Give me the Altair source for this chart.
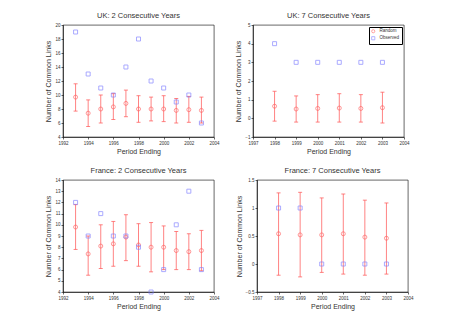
import altair as alt
import pandas as pd

RED = "#ff5a5a"
BLUE = "#7a7aff"
TXT = "#333333"
FONT = "Liberation Sans"

# UK: 2 consecutive years
uk2_years = [1993, 1994, 1995, 1996, 1997, 1998, 1999, 2000, 2001, 2002, 2003]
uk2_rand_mean = [9.7, 7.4, 8.0, 8.3, 8.8, 8.0, 8.0, 8.0, 7.8, 7.9, 7.8]
uk2_rand_lo = [7.7, 5.5, 6.0, 6.5, 6.9, 6.1, 6.3, 6.2, 6.0, 6.1, 6.0]
uk2_rand_hi = [11.6, 9.3, 10.0, 10.2, 10.7, 9.9, 9.7, 9.9, 9.5, 9.8, 9.7]
uk2_observed = [19, 13, 11, 10, 14, 18, 12, 11, 9, 10, 6]

# UK: 7 consecutive years
uk7_years = [1998, 1999, 2000, 2001, 2002, 2003]
uk7_rand_mean = [0.65, 0.50, 0.53, 0.55, 0.53, 0.57]
uk7_rand_lo = [-0.15, -0.20, -0.20, -0.20, -0.20, -0.25]
uk7_rand_hi = [1.45, 1.20, 1.27, 1.32, 1.27, 1.40]
uk7_observed = [4, 3, 3, 3, 3, 3]

# France: 2 consecutive years
fr2_years = [1993, 1994, 1995, 1996, 1997, 1998, 1999, 2000, 2001, 2002, 2003]
fr2_rand_mean = [9.8, 7.4, 8.1, 8.3, 8.9, 8.2, 8.0, 8.0, 7.7, 7.6, 7.7]
fr2_rand_lo = [7.8, 5.5, 6.1, 6.3, 6.8, 6.3, 5.8, 6.0, 6.0, 6.0, 5.9]
fr2_rand_hi = [11.8, 9.0, 10.0, 10.3, 10.9, 10.1, 10.2, 9.9, 9.4, 9.2, 9.5]
fr2_observed = [12, 9, 11, 9, 9, 8, 4, 6, 10, 13, 6]

# France: 7 consecutive years
fr7_years = [1998, 1999, 2000, 2001, 2002, 2003]
fr7_rand_mean = [0.54, 0.52, 0.52, 0.54, 0.48, 0.46]
fr7_rand_lo = [-0.20, -0.23, -0.15, -0.18, -0.20, -0.18]
fr7_rand_hi = [1.27, 1.28, 1.18, 1.25, 1.14, 1.09]
fr7_observed = [1, 1, 0, 0, 0, 0]

W, H = 151, 112


def panel(title, years, mean, lo, hi, obs, xdom, xticks, ydom, yticks, show_legend=False):
    err = pd.DataFrame({"year": years, "lo": lo, "hi": hi})
    pts = pd.DataFrame(
        {"year": years * 2,
         "value": list(mean) + list(obs),
         "series": ["Random"] * len(years) + ["Observed"] * len(years)}
    )
    xsc = alt.Scale(domain=xdom, nice=False)
    xax = alt.Axis(values=xticks, format="d", title="Period Ending")
    ysc = alt.Scale(domain=ydom, nice=False)
    yax = alt.Axis(values=yticks, format="~g", title="Number of Common Links")

    def X():
        return alt.X("year:Q", scale=xsc, axis=xax)

    def Y(field):
        return alt.Y(field, scale=ysc, axis=yax)

    rule = alt.Chart(err).mark_rule(color=RED, strokeWidth=1, opacity=0.75).encode(
        x=X(), y=Y("lo:Q"), y2="hi:Q")
    cap_lo = alt.Chart(err).mark_tick(color=RED, orient="horizontal", size=4, thickness=1, opacity=0.75).encode(
        x=X(), y=Y("lo:Q"))
    cap_hi = alt.Chart(err).mark_tick(color=RED, orient="horizontal", size=4, thickness=1, opacity=0.75).encode(
        x=X(), y=Y("hi:Q"))
    legend = alt.Legend(title=None, orient="top-right", offset=2, strokeColor="black",
                        padding=2, labelFontSize=4.5, symbolSize=10, rowPadding=0,
                        symbolStrokeWidth=0.8, fillColor="white", labelFont=FONT,
                        labelColor=TXT) if show_legend else None
    points = alt.Chart(pts).mark_point(filled=False, strokeWidth=0.9, size=16).encode(
        x=X(),
        y=Y("value:Q"),
        color=alt.Color("series:N", scale=alt.Scale(domain=["Random", "Observed"], range=[RED, BLUE]),
                        legend=legend),
        shape=alt.Shape("series:N", scale=alt.Scale(domain=["Random", "Observed"], range=["circle", "square"]),
                        legend=legend),
    )
    return alt.layer(rule, cap_lo, cap_hi, points).properties(
        width=W, height=H,
        title=alt.Title(title, fontWeight="normal", fontSize=7.5, font=FONT, color=TXT, offset=3))


uk2 = panel("UK: 2 Consecutive Years", uk2_years, uk2_rand_mean, uk2_rand_lo, uk2_rand_hi, uk2_observed,
            [1992, 2004], [1992, 1994, 1996, 1998, 2000, 2002, 2004], [4, 20], list(range(4, 21, 2)))
uk7 = panel("UK: 7 Consecutive Years", uk7_years, uk7_rand_mean, uk7_rand_lo, uk7_rand_hi, uk7_observed,
            [1997, 2004], list(range(1997, 2005)), [-1, 5], list(range(-1, 6)), show_legend=True)
fr2 = panel("France: 2 Consecutive Years", fr2_years, fr2_rand_mean, fr2_rand_lo, fr2_rand_hi, fr2_observed,
            [1992, 2004], [1992, 1994, 1996, 1998, 2000, 2002, 2004], [4, 14], list(range(4, 15)))
fr7 = panel("France: 7 Consecutive Years", fr7_years, fr7_rand_mean, fr7_rand_lo, fr7_rand_hi, fr7_observed,
            [1997, 2004], list(range(1997, 2005)), [-0.5, 1.5], [-0.5, 0, 0.5, 1, 1.5])

top = alt.hconcat(uk2, uk7, spacing=14).resolve_legend(color="independent", shape="independent")
bottom = alt.hconcat(fr2, fr7, spacing=14).resolve_legend(color="independent", shape="independent")
chart = alt.vconcat(top, bottom, spacing=11).resolve_legend(
    color="independent", shape="independent"
).properties(padding={"left": 36, "top": 3, "right": 5, "bottom": 5}).configure(
    font=FONT
).configure_view(
    stroke="black", strokeWidth=0.6
).configure_axis(
    grid=False, domainColor="black", domainWidth=0.6, tickColor="black", tickSize=2,
    tickWidth=0.6, labelFontSize=4.5, labelColor=TXT, titleFontSize=7, titleFontWeight="normal",
    titleColor=TXT, labelPadding=1, titlePadding=3, labelOverlap=False, labelFlush=False,
    labelFont=FONT, titleFont=FONT
)

chart.save("out.html", embed_options={"renderer": "svg", "actions": False})
